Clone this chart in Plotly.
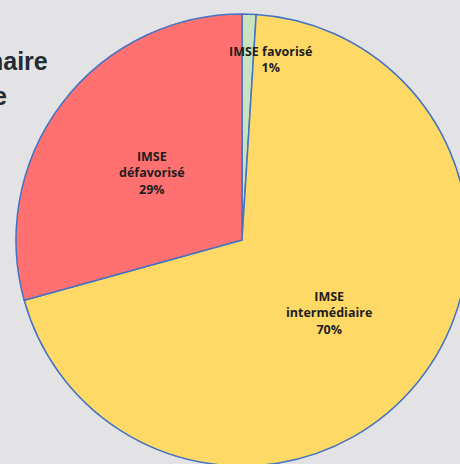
import plotly.graph_objects as go

# ---- data ----
categories = ["IMSE favorisé", "IMSE intermédiaire", "IMSE défavorisé"]
label_lines = ["IMSE favorisé<br>1%", "IMSE<br>intermédiaire<br>70%", "IMSE<br>défavorisé<br>29%"]
values = [1.0, 69.7, 29.3]
colors = ["#C9E3C0", "#FFD966", "#FF7171"]

W, H = 470, 470

def px(x):
    return x / W

def py(y):
    return 1 - y / H

fig = go.Figure()
fig.add_trace(go.Pie(
    labels=categories,
    values=values,
    sort=False,
    direction="clockwise",
    rotation=0,
    marker=dict(colors=colors, line=dict(color="#4472C4", width=1.5)),
    textinfo="none",
    hoverinfo="label+percent",
    showlegend=False,
    domain=dict(x=[px(16), px(468)], y=[py(466), py(14)]),
))

label_pos = [(270, 59), (329, 313), (152, 173)]
for txt, (lx, ly) in zip(label_lines, label_pos):
    fig.add_annotation(
        x=px(lx), y=py(ly), xref="paper", yref="paper",
        text="<b>" + txt + "</b>", showarrow=False,
        font=dict(family="Open Sans", size=12.5, color="#1E1E1E"),
        xanchor="center", yanchor="middle", align="center",
    )

# cropped slide title fragments (cut by the left edge, as in the reference)
title_font = dict(family="Liberation Sans, Arial", size=25, color="#262A31")
fig.add_annotation(x=px(50), y=py(61), xref="paper", yref="paper",
                   text="<b>naire</b>", showarrow=False, font=title_font,
                   xanchor="right", yanchor="middle")
fig.add_annotation(x=px(9), y=py(96), xref="paper", yref="paper",
                   text="<b>e</b>", showarrow=False, font=title_font,
                   xanchor="right", yanchor="middle")

fig.update_layout(
    width=W, height=H,
    margin=dict(l=0, r=0, t=0, b=0),
    paper_bgcolor="#E3E3E5",
    plot_bgcolor="#E3E3E5",
)

fig.write_html(
    "out.html",
    config={"displayModeBar": False},
    post_script="document.body.style.margin='0';document.body.style.overflow='hidden';",
)
